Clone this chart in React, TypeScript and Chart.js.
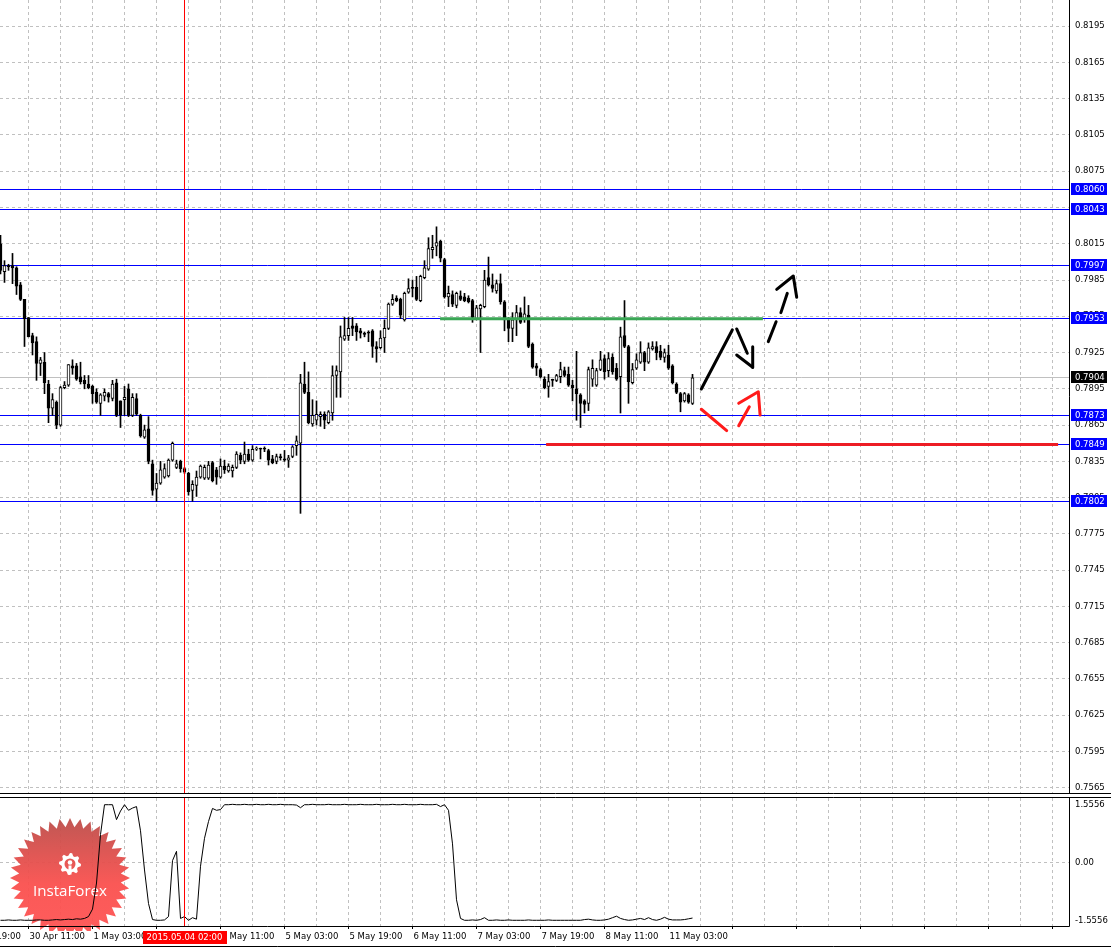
import React, { useEffect, useRef } from "react";
import { Chart, registerables } from "chart.js";

Chart.register(...registerables);

// H1 bars, bar 0 = 30 Apr 04:00
const openPrices = [
  0.8015,0.7992,0.7997,0.7997,0.7995,0.7981,0.7969,0.7954,0.7939,0.7934,
  0.7916,0.7917,0.7899,0.7879,0.7884,0.7865,0.7896,0.7898,0.7914,0.7914,
  0.7905,0.7902,0.7899,0.7897,0.7892,0.7883,0.7889,0.7891,0.7887,0.7900,
  0.7885,0.7886,0.7895,0.7873,0.7887,0.7873,0.7855,0.7862,0.7833,0.7812,
  0.7817,0.7822,0.7823,0.7836,0.7830,0.7835,0.7829,0.7825,0.7811,0.7815,
  0.7822,0.7821,0.7821,0.7834,0.7828,0.7822,0.7831,0.7827,0.7827,0.7830,
  0.7840,0.7835,0.7841,0.7836,0.7845,0.7845,0.7845,0.7844,0.7837,0.7835,
  0.7839,0.7837,0.7836,0.7839,0.7848,0.7850,0.7899,0.7892,0.7866,0.7869,
  0.7872,0.7874,0.7867,0.7875,0.7906,0.7909,0.7936,0.7939,0.7947,0.7947,
  0.7943,0.7941,0.7942,0.7943,0.7930,0.7929,0.7937,0.7945,0.7965,0.7970,
  0.7969,0.7952,0.7975,0.7979,0.7979,0.7968,0.7987,0.7994,0.8010,0.8013,
  0.8017,0.8002,0.7971,0.7973,0.7964,0.7972,0.7971,0.7970,0.7968,0.7953,
  0.7961,0.7963,0.7987,0.7981,0.7976,0.7982,0.7967,0.7952,0.7945,0.7952,
  0.7958,0.7952,0.7956,0.7932,0.7914,0.7911,0.7903,0.7897,0.7902,0.7902,
  0.7905,0.7910,0.7907,0.7898,0.7895,0.7890,0.7885,0.7883,0.7903,0.7898,
  0.7911,0.7920,0.7910,0.7921,0.7912,0.7905,0.7939,0.7930,0.7900,0.7912,
  0.7917,0.7925,0.7917,0.7928,0.7930,0.7926,0.7921,0.7923,0.7914,0.7899,
  0.7891,0.7885,0.7890,0.7883,
];
const highPrices = [
  0.8022,0.8001,0.7998,0.8007,0.7996,0.7983,0.7969,0.7954,0.7941,0.7938,
  0.7921,0.7925,0.7902,0.7891,0.7885,0.7897,0.7901,0.7915,0.7919,0.7916,
  0.7917,0.7906,0.7906,0.7898,0.7895,0.7891,0.7895,0.7892,0.7902,0.7903,
  0.7885,0.7897,0.7899,0.7891,0.7891,0.7874,0.7865,0.7872,0.7836,0.7825,
  0.7835,0.7833,0.7837,0.7851,0.7836,0.7836,0.7830,0.7826,0.7819,0.7827,
  0.7832,0.7832,0.7835,0.7835,0.7830,0.7837,0.7836,0.7833,0.7832,0.7843,
  0.7842,0.7851,0.7845,0.7848,0.7847,0.7846,0.7847,0.7845,0.7840,0.7841,
  0.7841,0.7844,0.7840,0.7848,0.7856,0.7907,0.7917,0.7909,0.7886,0.7885,
  0.7876,0.7876,0.7877,0.7914,0.7914,0.7947,0.7954,0.7954,0.7954,0.7949,
  0.7945,0.7942,0.7943,0.7944,0.7934,0.7943,0.7952,0.7966,0.7973,0.7972,
  0.7970,0.7975,0.7986,0.7985,0.7988,0.7989,0.8001,0.8020,0.8022,0.8029,
  0.8018,0.8003,0.7980,0.7976,0.7975,0.7976,0.7974,0.7972,0.7969,0.7964,
  0.7965,0.7993,0.8004,0.7990,0.7985,0.7990,0.7968,0.7954,0.7958,0.7964,
  0.7962,0.7971,0.7964,0.7933,0.7916,0.7912,0.7905,0.7907,0.7903,0.7907,
  0.7917,0.7913,0.7913,0.7902,0.7926,0.7891,0.7886,0.7913,0.7919,0.7912,
  0.7926,0.7923,0.7925,0.7924,0.7916,0.7946,0.7968,0.7931,0.7916,0.7924,
  0.7934,0.7926,0.7933,0.7934,0.7934,0.7931,0.7928,0.7931,0.7915,0.7900,
  0.7892,0.7892,0.7891,0.7907,
];
const lowPrices = [
  0.7990,0.7983,0.7993,0.7982,0.7973,0.7968,0.7930,0.7938,0.7923,0.7902,
  0.7906,0.7891,0.7867,0.7873,0.7862,0.7864,0.7895,0.7897,0.7907,0.7902,
  0.7899,0.7895,0.7895,0.7883,0.7883,0.7873,0.7885,0.7884,0.7885,0.7872,
  0.7863,0.7873,0.7872,0.7872,0.7873,0.7855,0.7854,0.7833,0.7807,0.7802,
  0.7816,0.7821,0.7822,0.7835,0.7829,0.7826,0.7825,0.7807,0.7802,0.7806,
  0.7821,0.7820,0.7820,0.7818,0.7816,0.7821,0.7825,0.7826,0.7822,0.7829,
  0.7833,0.7833,0.7835,0.7835,0.7844,0.7837,0.7843,0.7832,0.7833,0.7833,
  0.7836,0.7835,0.7830,0.7838,0.7840,0.7792,0.7891,0.7866,0.7864,0.7865,
  0.7864,0.7862,0.7866,0.7869,0.7888,0.7888,0.7935,0.7935,0.7939,0.7935,
  0.7937,0.7938,0.7934,0.7921,0.7917,0.7928,0.7925,0.7944,0.7964,0.7967,
  0.7953,0.7951,0.7974,0.7971,0.7968,0.7967,0.7986,0.7993,0.8003,0.8005,
  0.8000,0.7970,0.7963,0.7963,0.7962,0.7968,0.7967,0.7966,0.7950,0.7952,
  0.7925,0.7962,0.7980,0.7975,0.7974,0.7965,0.7943,0.7934,0.7934,0.7939,
  0.7949,0.7950,0.7929,0.7912,0.7906,0.7904,0.7895,0.7888,0.7897,0.7901,
  0.7900,0.7905,0.7897,0.7885,0.7869,0.7863,0.7875,0.7877,0.7897,0.7897,
  0.7910,0.7903,0.7905,0.7907,0.7902,0.7875,0.7929,0.7883,0.7899,0.7911,
  0.7916,0.7910,0.7916,0.7927,0.7919,0.7919,0.7917,0.7911,0.7899,0.7891,
  0.7876,0.7884,0.7883,0.7882,
];
const closePrices = [
  0.7993,0.7997,0.7996,0.7995,0.7980,0.7969,0.7953,0.7938,0.7933,0.7916,
  0.7919,0.7900,0.7879,0.7886,0.7865,0.7896,0.7898,0.7915,0.7912,0.7903,
  0.7901,0.7899,0.7896,0.7891,0.7884,0.7890,0.7892,0.7888,0.7899,0.7873,
  0.7873,0.7888,0.7873,0.7888,0.7874,0.7856,0.7861,0.7835,0.7811,0.7817,
  0.7828,0.7829,0.7836,0.7850,0.7833,0.7829,0.7826,0.7810,0.7816,0.7822,
  0.7831,0.7830,0.7832,0.7819,0.7822,0.7831,0.7828,0.7831,0.7830,0.7841,
  0.7836,0.7841,0.7836,0.7845,0.7846,0.7845,0.7845,0.7836,0.7834,0.7839,
  0.7838,0.7836,0.7838,0.7847,0.7852,0.7900,0.7892,0.7867,0.7873,0.7874,
  0.7874,0.7869,0.7876,0.7906,0.7910,0.7938,0.7939,0.7945,0.7945,0.7942,
  0.7941,0.7940,0.7941,0.7930,0.7928,0.7937,0.7945,0.7965,0.7969,0.7968,
  0.7956,0.7974,0.7978,0.7978,0.7969,0.7988,0.7995,0.8011,0.8012,0.8016,
  0.8003,0.7971,0.7974,0.7965,0.7974,0.7969,0.7968,0.7967,0.7954,0.7962,
  0.7964,0.7985,0.7981,0.7978,0.7982,0.7967,0.7952,0.7945,0.7952,0.7958,
  0.7950,0.7957,0.7930,0.7913,0.7912,0.7905,0.7896,0.7901,0.7902,0.7906,
  0.7911,0.7906,0.7898,0.7896,0.7891,0.7883,0.7882,0.7911,0.7912,0.7910,
  0.7919,0.7909,0.7920,0.7909,0.7903,0.7938,0.7930,0.7901,0.7911,0.7919,
  0.7925,0.7917,0.7929,0.7930,0.7925,0.7921,0.7925,0.7912,0.7900,0.7892,
  0.7884,0.7891,0.7884,0.7904,
];

const indicatorValues = [
  -1.55,-1.55,-1.54,-1.55,-1.55,-1.54,-1.55,-1.55,-1.55,-1.54,
  -1.54,-1.55,-1.55,-1.54,-1.53,-1.54,-1.53,-1.52,-1.53,-1.51,
  -1.52,-1.50,-1.45,-1.25,-0.55,0.75,1.55,1.55,1.55,1.15,
  1.38,1.55,1.40,1.46,1.50,0.85,-0.20,-1.10,-1.53,-1.55,
  -1.55,-1.54,-1.45,0.05,0.30,-1.50,-1.45,-1.55,-1.48,-1.52,
  -0.10,0.65,1.10,1.45,1.40,1.42,1.55,1.55,1.56,1.55,
  1.55,1.56,1.55,1.55,1.56,1.55,1.55,1.56,1.55,1.55,
  1.56,1.55,1.55,1.55,1.54,1.47,1.55,1.55,1.56,1.55,
  1.55,1.55,1.56,1.55,1.55,1.55,1.56,1.55,1.55,1.55,
  1.56,1.55,1.55,1.55,1.56,1.55,1.55,1.55,1.56,1.55,
  1.55,1.56,1.55,1.55,1.55,1.56,1.55,1.55,1.55,1.56,
  1.50,1.55,1.40,0.50,-1.00,-1.50,-1.55,-1.55,-1.54,-1.55,
  -1.53,-1.48,-1.55,-1.55,-1.54,-1.55,-1.55,-1.54,-1.55,-1.55,
  -1.55,-1.55,-1.54,-1.55,-1.55,-1.55,-1.55,-1.54,-1.55,-1.55,
  -1.55,-1.55,-1.55,-1.55,-1.55,-1.55,-1.53,-1.52,-1.54,-1.55,
  -1.55,-1.54,-1.52,-1.48,-1.44,-1.50,-1.53,-1.55,-1.54,-1.52,
  -1.50,-1.53,-1.48,-1.53,-1.55,-1.52,-1.47,-1.52,-1.54,-1.54,
  -1.54,-1.53,-1.51,-1.49,
];

const priceTicks = [
  0.7565,0.7595,0.7625,0.7655,0.7685,0.7715,0.7745,0.7775,0.7805,0.7835,0.7865,
  0.7895,0.7925,0.7955,0.7985,0.8015,0.8045,0.8075,0.8105,0.8135,0.8165,0.8195,
];
const indicatorTicks = [-1.5556, 0, 1.5556];
const indicatorTickLabels = ["-1.5556", "0.00", "1.5556"];

const levelPrices = [0.8060, 0.8043, 0.7997, 0.7953, 0.7873, 0.7849, 0.7802];
const lastPrice = 0.7904;

const timeLabels = ["29 Apr 19:00","30 Apr 11:00","1 May 03:00","1 May 19:00","4 May 11:00","5 May 03:00","5 May 19:00","6 May 11:00","7 May 03:00","7 May 19:00","8 May 11:00","11 May 03:00"];
const timeLabelBars = [-9, 7, 23, 39, 55, 71, 87, 103, 119, 135, 151, 167];
const markerBar = 46;
const markerLabel = "2015.05.04 02:00";

// drawn objects: [bar, price]
const greenSegment = [[109.9, 0.7953], [190.6, 0.7953]];
const redSegment = [[136.4, 0.7849], [264.4, 0.7849]];
const blackStrokes = [
  [[175.2, 0.78949], [182.95, 0.79437]],
  [[184.05, 0.79445], [186.7, 0.79244]],
  [[184.05, 0.7923], [188.05, 0.79128]],
  [[188.05, 0.79298], [188.05, 0.79128]],
  [[191.95, 0.7934], [193.9, 0.79505]],
  [[195.1, 0.7958], [196.7, 0.7974]],
  [[194.05, 0.79773], [198.2, 0.79883], [199.05, 0.79707]],
];
const redStrokes = [
  [[175.2, 0.78781], [181.55, 0.78604]],
  [[184.55, 0.78645], [187.2, 0.78802]],
  [[184.55, 0.7883], [189.45, 0.78926], [189.9, 0.78733]],
];

// layout / style
const W = 1111;
const MAIN_H = 796;
const IND_H = 153;
const AXIS_W = 42;
const X_MIN = -0.125;
const X_MAX = X_MIN + (W - AXIS_W) / 4;
const Y_MAX = 0.7997 + 265.5 / 12090;
const Y_MIN = 0.7997 - (793 - 265.5) / 12090;
const IND_MAX = 1.73;
const IND_MIN = -1.703;
const GRID = "#c0c0c0";
const BLUE = "#0000ff";
const FONT_FAMILY = "DejaVu Sans";
const FONT = "8.5px 'DejaVu Sans'";
const gridBars: number[] = [];
for (let b = 7; b <= 266; b += 8) gridBars.push(b);

Chart.defaults.font.family = FONT_FAMILY;

function hLine(ctx: any, x1: number, x2: number, y: number) {
  ctx.beginPath();
  ctx.moveTo(x1, y);
  ctx.lineTo(x2, y);
  ctx.stroke();
}
function vLine(ctx: any, x: number, y1: number, y2: number) {
  ctx.beginPath();
  ctx.moveTo(x, y1);
  ctx.lineTo(x, y2);
  ctx.stroke();
}
const crisp = (v: number) => Math.floor(v) + 0.5;

function drawBox(ctx: any, x: number, yc: number, text: string, bg: string) {
  const y = Math.floor(yc);
  ctx.fillStyle = bg;
  ctx.fillRect(x, y - 6, 36, 12);
  ctx.fillStyle = "#ffffff";
  ctx.font = FONT;
  ctx.textAlign = "left";
  ctx.textBaseline = "middle";
  ctx.fillText(text, x + 4, y + 0.5);
}

function drawLogo(ctx: any, cx: number, cy: number) {
  const spikes = 36;
  const rOut = 60;
  const rIn = 51;
  ctx.save();
  ctx.beginPath();
  for (let i = 0; i < spikes * 2; i++) {
    const r = i % 2 === 0 ? rOut : rIn;
    const a = -Math.PI / 2 + (i * Math.PI) / spikes;
    const px = cx + r * Math.cos(a);
    const py = cy + r * Math.sin(a);
    if (i === 0) ctx.moveTo(px, py);
    else ctx.lineTo(px, py);
  }
  ctx.closePath();
  const g = ctx.createLinearGradient(0, cy - rOut, 0, cy + rOut);
  g.addColorStop(0, "rgba(188,78,74,0.95)");
  g.addColorStop(0.55, "rgba(250,80,78,0.95)");
  g.addColorStop(1, "rgba(255,84,84,0.95)");
  ctx.fillStyle = g;
  ctx.fill();

  // gear icon
  const gx = cx;
  const gy = cy - 14;
  ctx.fillStyle = "#ffffff";
  ctx.beginPath();
  const teeth = 8;
  for (let i = 0; i < teeth * 4; i++) {
    const a = (i * Math.PI * 2) / (teeth * 4) - Math.PI / 2;
    const r = i % 4 < 2 ? 11 : 8.5;
    const px = gx + r * Math.cos(a);
    const py = gy + r * Math.sin(a);
    if (i === 0) ctx.moveTo(px, py);
    else ctx.lineTo(px, py);
  }
  ctx.closePath();
  ctx.moveTo(gx + 5.5, gy);
  ctx.arc(gx, gy, 5.5, 0, Math.PI * 2, true);
  ctx.fill("evenodd");
  ctx.beginPath();
  ctx.arc(gx, gy - 1.5, 2.3, 0, Math.PI * 2);
  ctx.fill();
  ctx.fillRect(gx - 1.5, gy + 1.5, 3, 9);

  // text
  ctx.font = "15px 'Open Sans'";
  ctx.textAlign = "center";
  ctx.textBaseline = "middle";
  const w = ctx.measureText("InstaForex").width;
  ctx.translate(cx, cy + 14);
  ctx.scale(74 / w, 1);
  ctx.fillText("InstaForex", 0, 0);
  ctx.restore();
}

const mainDecor = {
  id: "mainDecor",
  beforeDatasetsDraw(chart: any) {
    const { ctx, chartArea: a, scales } = chart;
    const y = scales.y;
    ctx.save();
    ctx.beginPath();
    ctx.rect(a.left, a.top, a.right - a.left, a.bottom - a.top);
    ctx.clip();
    ctx.lineWidth = 1;
    ctx.strokeStyle = GRID;
    hLine(ctx, a.left, a.right, crisp(y.getPixelForValue(lastPrice)));
    ctx.strokeStyle = BLUE;
    levelPrices.forEach((p) => hLine(ctx, a.left, a.right, crisp(y.getPixelForValue(p))));
    ctx.restore();
  },
  afterDatasetsDraw(chart: any) {
    const { ctx, chartArea: a, scales } = chart;
    ctx.save();
    ctx.strokeStyle = "#ff0000";
    ctx.lineWidth = 1;
    vLine(ctx, crisp(scales.x.getPixelForValue(markerBar)), a.top, a.bottom);
    ctx.restore();
  },
  afterDraw(chart: any) {
    const { ctx, chartArea: a, scales } = chart;
    const y = scales.y;
    ctx.save();
    ctx.strokeStyle = "#000000";
    ctx.lineWidth = 1;
    vLine(ctx, a.right + 0.5, 0, a.bottom + 0.5);
    hLine(ctx, 0, W, a.bottom + 0.5);
    levelPrices.forEach((p) => {
      drawBox(ctx, a.right + 2, y.getPixelForValue(p), p.toFixed(4), BLUE);
    });
    drawBox(ctx, a.right + 2, y.getPixelForValue(lastPrice), lastPrice.toFixed(4), "#000000");
    ctx.restore();
  },
};

const indDecor = {
  id: "indDecor",
  beforeDatasetsDraw(chart: any) {
    const { ctx, chartArea: a } = chart;
    ctx.save();
    ctx.beginPath();
    ctx.rect(0, a.top, a.right, a.bottom - a.top + 5);
    ctx.clip();
    drawLogo(ctx, 70, 82);
    ctx.restore();
  },
  afterDatasetsDraw(chart: any) {
    const { ctx, chartArea: a, scales } = chart;
    ctx.save();
    ctx.strokeStyle = "#ff0000";
    ctx.lineWidth = 1;
    vLine(ctx, crisp(scales.x.getPixelForValue(markerBar)), a.top, a.bottom);
    ctx.restore();
  },
  afterDraw(chart: any) {
    const { ctx, chartArea: a, scales } = chart;
    const x = scales.x;
    ctx.save();
    ctx.strokeStyle = "#000000";
    ctx.lineWidth = 1;
    hLine(ctx, 0, W, a.top - 0.5);
    hLine(ctx, 0, a.right + 0.5, a.bottom + 0.5);
    vLine(ctx, a.right + 0.5, a.top - 0.5, a.bottom + 0.5);
    hLine(ctx, 0, W, IND_H - 2.5);

    ctx.font = FONT;
    ctx.fillStyle = "#000000";
    ctx.textAlign = "left";
    ctx.textBaseline = "middle";
    const ly = a.bottom + 11;
    timeLabels.forEach((t, i) => {
      ctx.fillText(t, x.getPixelForValue(timeLabelBars[i]) + 1, ly);
    });
    const mx = x.getPixelForValue(markerBar);
    const tw = ctx.measureText(markerLabel).width;
    const bw = Math.round(tw + 8);
    ctx.fillStyle = "#ff0000";
    ctx.fillRect(Math.round(mx - bw / 2), a.bottom + 5, bw, 13);
    ctx.fillStyle = "#ffffff";
    ctx.textAlign = "center";
    ctx.fillText(markerLabel, mx, ly + 0.5);
    ctx.restore();
  },
};

const bars = openPrices.map((_, i) => i);
const toXY = (pts: number[][]) => pts.map(([b, p]) => ({ x: b, y: p }));

function strokeDataset(pts: number[][], color: string) {
  return {
    type: "line",
    data: toXY(pts),
    borderColor: color,
    borderWidth: 3,
    pointRadius: 0,
    borderCapStyle: "round",
    borderJoinStyle: "round",
    tension: 0,
    order: 0,
  };
}

function mainConfig(): any {
  return {
    type: "bar",
    data: {
      datasets: [
        {
          type: "bar",
          data: bars.map((i) => ({ x: i, y: [lowPrices[i], highPrices[i]] })),
          backgroundColor: "#000000",
          borderWidth: 0,
          barThickness: 1,
          maxBarThickness: 1,
          grouped: false,
          order: 5,
        },
        {
          type: "bar",
          data: bars.map((i) => ({ x: i, y: [openPrices[i], closePrices[i]] })),
          backgroundColor: bars.map((i) => (closePrices[i] > openPrices[i] ? "#ffffff" : "#000000")),
          borderColor: "#000000",
          borderWidth: 1,
          borderSkipped: false,
          barThickness: 3,
          maxBarThickness: 3,
          minBarLength: 1,
          grouped: false,
          order: 4,
        },
        { ...strokeDataset(greenSegment, "#3aa655"), borderCapStyle: "butt", order: 2 },
        { ...strokeDataset(redSegment, "#ed1c24"), borderCapStyle: "butt", order: 2 },
        ...blackStrokes.map((s) => strokeDataset(s, "#000000")),
        ...redStrokes.map((s) => strokeDataset(s, "#ff1a1a")),
      ],
    },
    options: {
      responsive: false,
      animation: false,
      devicePixelRatio: 1,
      events: [],
      layout: { padding: { top: 0, left: 0, right: 0, bottom: 3 } },
      plugins: { legend: { display: false }, tooltip: { enabled: false } },
      scales: {
        x: {
          type: "linear",
          min: X_MIN,
          max: X_MAX,
          offset: false,
          grid: { color: GRID, lineWidth: 1, drawTicks: false, offset: false },
          border: { display: false, dash: [3, 3] },
          ticks: { display: false },
          afterBuildTicks: (s: any) => {
            s.ticks = gridBars.map((v) => ({ value: v }));
          },
          afterFit: (s: any) => {
            s.height = 0;
            s.paddingLeft = 0;
            s.paddingRight = 0;
          },
        },
        y: {
          type: "linear",
          position: "right",
          min: Y_MIN,
          max: Y_MAX,
          beginAtZero: false,
          grid: { color: GRID, lineWidth: 1, drawTicks: false },
          border: { display: false, dash: [3, 3] },
          ticks: {
            color: "#000000",
            font: { family: FONT_FAMILY, size: 8.5 },
            padding: 6,
            autoSkip: false,
            callback: (v: any) => Number(v).toFixed(4),
          },
          afterBuildTicks: (s: any) => {
            s.ticks = priceTicks.map((v) => ({ value: v }));
          },
          afterFit: (s: any) => {
            s.width = AXIS_W;
            s.paddingTop = 0;
            s.paddingBottom = 0;
          },
        },
      },
    },
    plugins: [mainDecor],
  };
}

function indConfig(): any {
  return {
    type: "line",
    data: {
      datasets: [
        {
          data: indicatorValues.map((v, i) => ({ x: i, y: v })),
          borderColor: "#000000",
          borderWidth: 1,
          pointRadius: 0,
          tension: 0,
        },
      ],
    },
    options: {
      responsive: false,
      animation: false,
      devicePixelRatio: 1,
      events: [],
      layout: { padding: { top: 2, left: 0, right: 0, bottom: 0 } },
      plugins: { legend: { display: false }, tooltip: { enabled: false } },
      scales: {
        x: {
          type: "linear",
          min: X_MIN,
          max: X_MAX,
          offset: false,
          grid: {
            color: GRID,
            lineWidth: 1,
            drawTicks: true,
            tickLength: 3,
            tickColor: (c: any) => (c.tick && (c.tick.value - 7) % 16 === 0 ? "#000000" : "rgba(0,0,0,0)"),
            offset: false,
          },
          border: { display: false, dash: [3, 3] },
          ticks: { display: false },
          afterBuildTicks: (s: any) => {
            s.ticks = gridBars.map((v) => ({ value: v }));
          },
          afterFit: (s: any) => {
            s.height = 23;
            s.paddingLeft = 0;
            s.paddingRight = 0;
          },
        },
        y: {
          type: "linear",
          position: "right",
          min: IND_MIN,
          max: IND_MAX,
          grid: {
            color: (c: any) => (c.tick && c.tick.value === 0 ? GRID : "rgba(0,0,0,0)"),
            lineWidth: 1,
            drawTicks: false,
          },
          border: { display: false, dash: [3, 3] },
          ticks: {
            color: "#000000",
            font: { family: FONT_FAMILY, size: 8.5 },
            padding: 6,
            autoSkip: false,
            callback: (_v: any, i: number) => indicatorTickLabels[i],
          },
          afterBuildTicks: (s: any) => {
            s.ticks = indicatorTicks.map((v) => ({ value: v }));
          },
          afterFit: (s: any) => {
            s.width = AXIS_W;
            s.paddingTop = 0;
            s.paddingBottom = 0;
          },
        },
      },
    },
    plugins: [indDecor],
  };
}

export default function App() {
  const mainRef = useRef<HTMLCanvasElement>(null);
  const indRef = useRef<HTMLCanvasElement>(null);
  useEffect(() => {
    document.body.style.margin = "0";
    const c1 = new Chart(mainRef.current as any, mainConfig());
    const c2 = new Chart(indRef.current as any, indConfig());
    return () => {
      c1.destroy();
      c2.destroy();
    };
  }, []);
  return (
    <div style={{ position: "absolute", left: 0, top: 0, width: W, height: 949, background: "#ffffff", overflow: "hidden" }}>
      <canvas ref={mainRef} width={W} height={MAIN_H} style={{ position: "absolute", left: 0, top: 0, width: W, height: MAIN_H }} />
      <canvas ref={indRef} width={W} height={IND_H} style={{ position: "absolute", left: 0, top: MAIN_H, width: W, height: IND_H }} />
    </div>
  );
}
